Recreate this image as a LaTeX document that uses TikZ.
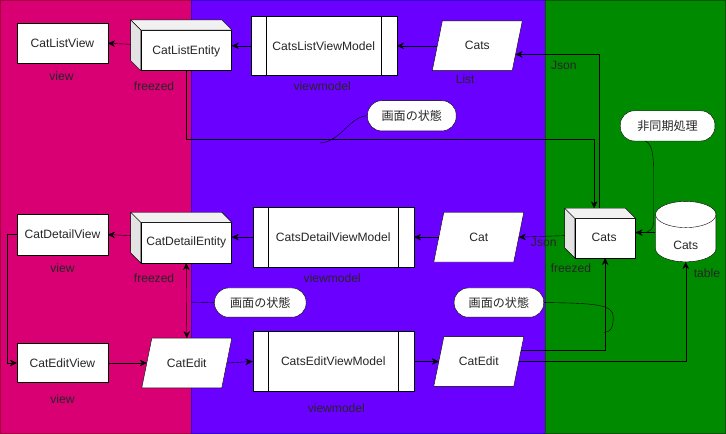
\documentclass[tikz,border=0pt]{standalone}
\usepackage{fontspec}
\setmainfont{Liberation Sans}
\newfontfamily\jpfont{Noto Sans CJK JP}
\usetikzlibrary{arrows.meta,calc}
\definecolor{pinkfill}{HTML}{D80073}
\definecolor{pinkline}{HTML}{A50040}
\definecolor{purplefill}{HTML}{6A00FF}
\definecolor{purpleline}{HTML}{3700CC}
\definecolor{greenfill}{HTML}{008A00}
\definecolor{greenline}{HTML}{005700}
\definecolor{cubetop}{HTML}{F1F1F1}
\definecolor{cubeside}{HTML}{E3E3E3}
\definecolor{txt}{HTML}{262626}
\pgfdeclarelayer{bands}
\pgfdeclarelayer{shapes}
\pgfsetlayers{bands,shapes,main}
\newcommand\paranode[4]{%
  \node[parabox] (#1) at (#2,#3) {#4};
  \begin{pgfonlayer}{shapes}
    \draw[fill=white] ($(#1.south west)+(-5,0)$) -- ($(#1.north west)+(5,0)$) -- ($(#1.north east)+(5,0)$) -- ($(#1.south east)+(-5,0)$) -- cycle;
  \end{pgfonlayer}}
\newcommand\cubenode[4]{%
  \node[box, minimum width=#4] (#1) at (#2,#3) {};
  \draw[fill=cubetop] (#1.north west) -- ++(-10,-10) -- ($(#1.north east)+(-10,-10)$) -- (#1.north east) -- cycle;
  \draw[fill=cubeside] (#1.north west) -- ++(-10,-10) -- ($(#1.south west)+(-10,-10)$) -- (#1.south west) -- cycle;}
\newcommand\procnode[6]{%
  \node[box, minimum width=#4, minimum height=#5] (#1) at (#2,#3) {#6};
  \draw ($(#1.north west)+(15.5,0)$) -- ($(#1.south west)+(15.5,0)$);
  \draw ($(#1.north east)+(-15.5,0)$) -- ($(#1.south east)+(-15.5,0)$);}
\begin{document}
\begin{tikzpicture}[x=1pt,y=-1pt, font=\fontsize{12}{14}\selectfont, line width=1pt,
  every node/.style={text=txt},
  box/.style={draw=black, fill=white, minimum width=90, minimum height=40, inner sep=0},
  parabox/.style={minimum width=79, minimum height=49, inner sep=0},
  callout/.style={draw=black, fill=white, rounded corners=14, minimum height=30, inner sep=0, font=\fontsize{12}{14}\selectfont\jpfont},
  lbl/.style={inner sep=0},
  arr/.style={-{Stealth[length=7pt,width=6.5pt]}},
  dbl/.style={{Stealth[length=7pt,width=6.5pt]}-{Stealth[length=7pt,width=6.5pt]}}]
\useasboundingbox (0,0) rectangle (721,431);
\begin{pgfonlayer}{bands}
  \draw[pinkline, fill=pinkfill] (0.5,0.5) rectangle (190,430);
  \draw[purpleline, fill=purplefill] (190,0.5) rectangle (541,430);
  \draw[greenline, fill=greenfill] (541,0.5) rectangle (720,430);
\end{pgfonlayer}

% row 1
\node[box] (lv) at (62,43) {CatListView};
\cubenode{cle}{185}{50}{90}
\node[lbl] at (185,51) {CatListEntity};
\procnode{vm1}{321.5}{45.5}{145}{59}{CatsListViewModel}
\paranode{catsL}{474}{45.5}{Cats}

% row 2
\node[box] (dv) at (62,233) {CatDetailView};
\cubenode{cde}{185}{241}{90}
\node[lbl] at (185,241) {CatDetailEntity};
\procnode{vm2}{331}{235.5}{160}{59}{CatsDetailViewModel}
\paranode{catP}{475.5}{235.5}{Cat}
\node[box, minimum width=60, minimum height=39] (cubeG) at (601,236.5) {};
\draw[fill=cubetop] (cubeG.north west) -- ++(-10,-10) -- ($(cubeG.north east)+(-10,-10)$) -- (cubeG.north east) -- cycle;
\draw[fill=cubeside] (cubeG.north west) -- ++(-10,-10) -- ($(cubeG.south west)+(-10,-10)$) -- (cubeG.south west) -- cycle;
\node[lbl] at (600,236) {Cats};
% cylinder
\node[minimum width=60, minimum height=60, inner sep=0] (tbl) at (681,230) {};
\draw[fill=white] (651,213) -- (651,247) arc[start angle=180, end angle=0, x radius=30, y radius=13] -- (711,213);
\draw[fill=white] (681,213) ellipse[x radius=30, y radius=13];
\node[lbl] at (681,244) {Cats};

% row 3
\node[box, minimum height=39] (ev) at (62,360.5) {CatEditView};
\paranode{ce1}{185.5}{360.5}{CatEdit}
\procnode{vm3}{331}{359}{160}{60}{CatsEditViewModel}
\paranode{ce2}{475.5}{359}{CatEdit}

% callouts
\node[callout, minimum width=88] (c1) at (409,115) {画面の状態};
\node[callout, minimum width=94] (c2) at (663,125) {非同期処理};
\node[callout, minimum width=91, minimum height=29] (c3) at (258.5,300.5) {画面の状態};
\node[callout, minimum width=89, minimum height=29] (c4) at (495.5,300.5) {画面の状態};

% labels
\node[lbl] at (61,76) {view};
\node[lbl] at (153,86) {freezed};
\node[lbl] at (320,86) {viewmodel};
\node[lbl] at (462,79) {List};
\node[lbl] at (560,65) {Json};
\node[lbl] at (62,266) {view};
\node[lbl] at (153,276) {freezed};
\node[lbl] at (330,276) {viewmodel};
\node[lbl] at (540,241) {Json};
\node[lbl] at (567,266) {freezed};
\node[lbl] at (702,271) {table};
\node[lbl] at (62,396) {view};
\node[lbl] at (334,405) {viewmodel};

% connectors row 1
\draw[arr] ($(cle.west)+(-10,-6)$) -- (lv.east);
\draw[arr] (vm1.west) -- (vm1.west -| cle.east);
\draw[arr] (catsL.west) -- (vm1.east);
\draw[arr] ($(cubeG.north)+(-6,-10)$) |- ($(catsL.east)+(-1.7,8.5)$);
\draw[arr] (cle.south) -- ++(0,68) -| ($(cubeG.north)+(-11,-10)$);

% connectors row 2
\draw[arr] ($(cde.west)+(-10,-7)$) -- (dv.east);
\draw[arr] (vm2.west) -- (vm2.west -| cde.east);
\draw[arr] (catP.west) -- (vm2.east);
\draw[arr] ($(cubeG.west)+(-10,-2.5)$) -- (catP.east);
\draw[arr] ($(tbl.west)+(0,1)$) -- ($(cubeG.east)+(0,-5.5)$);
\draw[arr] (dv.west) -- ++(-10,0) |- (ev.west);
\draw[dbl] (cde.south) -- (ce1.north);

% connectors row 3
\draw[arr] (ev.east) -- (ce1.west);
\draw[arr] (ce1.east) -- (vm3.west);
\draw[arr] (vm3.east) -- (ce2.west);
\draw[arr] ($(ce2.east)+(2.2,-11)$) -| (cubeG.south);
\draw[arr] (ce2.east) -| (tbl.south);

% callout tails
\coordinate (c1end) at (318,142);
\draw (c1.west) .. controls (348,115) and (338,141) .. (c1end);
\coordinate (c3end) at (190,300);
\draw (c3.west) -- (c3end);
\coordinate (c4mid) at (609,315);
\coordinate (c4end) at (600,330);
\draw (c4.east) .. controls (595,301) and (609,303) .. (c4mid) .. controls (609,326) and (606,330) .. (c4end);
\coordinate (c2top) at ($(c2.south)+(-22,0)$);
\coordinate (c2end) at (638,231);
\draw (c2top) .. controls (648,143) and (649,155) .. (649,170) -- (649,220) .. controls (649,228) and (645,231) .. (c2end);
\end{tikzpicture}
\end{document}
